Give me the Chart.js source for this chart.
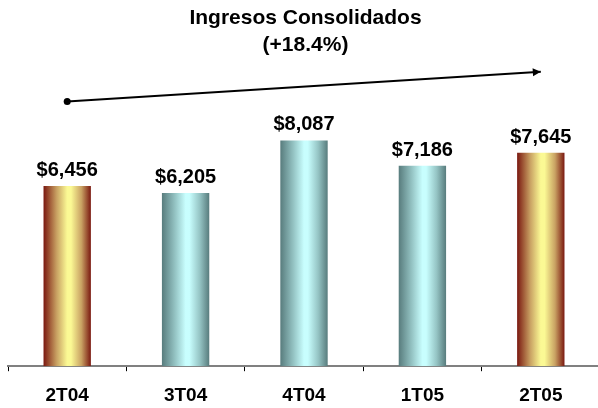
<!DOCTYPE html>
<html>
<head>
<meta charset="utf-8">
<script src="https://cdn.jsdelivr.net/npm/chart.js@4.4.0/dist/chart.umd.min.js"></script>
<style>
	html, body { margin: 0; padding: 0; background: #fff; overflow: hidden; }
	#wrap { width: 604px; height: 408px; }
</style>
</head>
<body>
<div id="wrap"><canvas id="myChart"></canvas></div>
<script>
// values for the chart
const labels = ['2T04', '3T04', '4T04', '1T05', '2T05'];
const ingresos = [6456, 6205, 8087, 7186, 7645];
const barStyle = ['gold', 'teal', 'teal', 'teal', 'gold'];
// trend arrow (start at 2T04, end at 2T05)
const trend = [9480, null, null, null, 10550];
const titleLines = ['Ingresos Consolidados', '(+18.4%)'];

const gradStops = {
	gold: ['#7a1810', '#c9a263', '#fbf994', '#fbf994', '#c9a263', '#7a1810'],
	teal: ['#587c7d', '#95c4c4', '#c8fefe', '#c8fefe', '#95c4c4', '#587c7d']
};
const stopPos = [0, 0.28, 0.5, 0.58, 0.8, 1];

function barColor(ctx) {
	const chart = ctx.chart;
	const x = chart.scales.x;
	if (!chart.chartArea || !x) return '#cccccc';
	const cx = x.getPixelForValue(ctx.dataIndex);
	const w = (x.width / labels.length) * 0.4;
	const g = chart.ctx.createLinearGradient(cx - w / 2, 0, cx + w / 2, 0);
	const cols = gradStops[barStyle[ctx.dataIndex]];
	cols.forEach((c, i) => g.addColorStop(stopPos[i], c));
	return g;
}

// value labels above bars + arrow head
const extras = {
	id: 'extras',
	afterDatasetsDraw(chart) {
		const c = chart.ctx;
		const bars = chart.getDatasetMeta(0).data;
		c.save();
		c.font = 'bold 20px "Liberation Sans", Arial, sans-serif';
		c.fillStyle = '#000';
		c.textAlign = 'center';
		c.textBaseline = 'alphabetic';
		bars.forEach((b, i) => {
			c.fillText('$' + ingresos[i].toLocaleString('en-US'), b.x, b.y - 10);
		});
		// arrow head at last point of trend line
		const pts = chart.getDatasetMeta(1).data;
		const p0 = pts[0], p1 = pts[pts.length - 1];
		const ang = Math.atan2(p1.y - p0.y, p1.x - p0.x);
		c.translate(p1.x, p1.y);
		c.rotate(ang);
		c.beginPath();
		c.moveTo(0, 0);
		c.lineTo(-8, -4);
		c.lineTo(-8, 4);
		c.closePath();
		c.fill();
		c.restore();
	}
};

const canvas = document.getElementById('myChart');

var myChart = new Chart(canvas, {
	data: {
		labels: labels,
		datasets: [{
			type: 'bar',
			data: ingresos,
			backgroundColor: barColor,
			categoryPercentage: 1,
			barPercentage: 0.4,
			order: 2
		}, {
			type: 'line',
			data: trend,
			spanGaps: true,
			borderColor: '#000',
			borderWidth: 2,
			pointRadius: [3.5, 0, 0, 0, 0],
			pointBackgroundColor: '#000',
			pointBorderWidth: 0,
			order: 1
		}]
	},
	options: {
		responsive: true,
		maintainAspectRatio: false,
		animation: false,
		layout: {
			padding: { left: 8, right: 1, top: 0, bottom: -12 }
		},
		plugins: {
			legend: { display: false },
			tooltip: { enabled: false },
			title: {
				display: true,
				text: titleLines,
				color: '#000',
				font: { family: '"Liberation Sans", Arial, sans-serif', size: 21, weight: 'bold', lineHeight: 1.29 },
				padding: { top: 5, bottom: 0 }
			}
		},
		scales: {
			x: {
				offset: true,
				grid: {
					display: true,
					drawOnChartArea: false,
					drawTicks: true,
					tickLength: 5,
					color: '#000',
					offset: true
				},
				border: { display: true, color: '#808080', width: 2 },
				ticks: {
					color: '#000',
					padding: 13,
					font: { family: '"Liberation Sans", Arial, sans-serif', size: 19, weight: 'bold' }
				}
			},
			y: {
				display: false,
				min: 0,
				max: 11000
			}
		}
	},
	plugins: [extras]
});
</script>
</body>
</html>
